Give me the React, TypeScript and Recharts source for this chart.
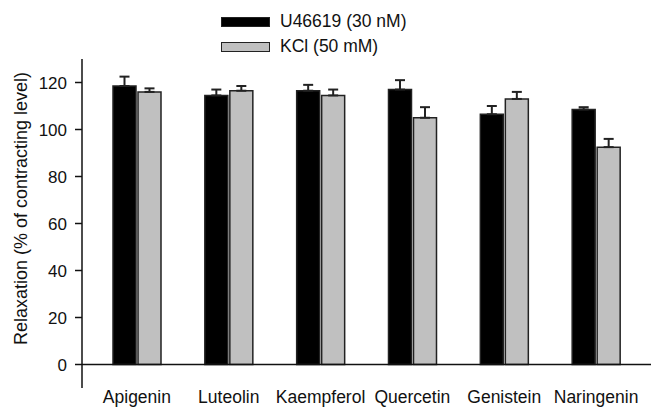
import React from 'react';
import { BarChart, Bar, XAxis, YAxis, ErrorBar, ReferenceLine } from 'recharts';

// values
const compounds = ['Apigenin', 'Luteolin', 'Kaempferol', 'Quercetin', 'Genistein', 'Naringenin'];
const u46619 = [118.5, 114.5, 116.5, 117, 106.5, 108.5];
const u46619Sem = [4, 2.5, 2.5, 4, 3.5, 1];
const kcl = [116, 116.5, 114.5, 105, 113, 92.5];
const kclSem = [1.5, 2, 2.5, 4.5, 3, 3.5];
const yTicks = [0, 20, 40, 60, 80, 100, 120];

const data = compounds.map((name, i) => ({
  name,
  u: u46619[i],
  uErr: [0, u46619Sem[i]],
  k: kcl[i],
  kErr: [0, kclSem[i]],
}));

const FONT = '"Liberation Sans", Arial, Helvetica, sans-serif';

const legendItems = [
  { label: 'U46619 (30 nM)', fill: '#000' },
  { label: 'KCl (50 mM)', fill: '#c0c0c0' },
];

export default function App() {
  return (
    <div style={{ position: 'absolute', left: 0, top: 0, width: 651, height: 407, background: '#fff' }}>
      {/* legend sits above the plot, outside recharts layout */}
      <div
        style={{
          position: 'absolute',
          left: 221,
          top: 9,
          fontFamily: FONT,
          fontSize: 17.5,
          color: '#111',
          zIndex: 1,
        }}
      >
        {legendItems.map((it) => (
          <div key={it.label} style={{ display: 'flex', alignItems: 'center', height: 25 }}>
            <span
              style={{
                display: 'inline-block',
                width: 47,
                height: 8,
                background: it.fill,
                border: '1.5px solid #222',
                marginRight: 10,
              }}
            />
            <span>{it.label}</span>
          </div>
        ))}
      </div>
      <BarChart
        width={651}
        height={407}
        data={data}
        margin={{ top: 59, right: 0, left: 0, bottom: 0 }}
        barSize={23}
        barGap={2}
      >
        <XAxis
          dataKey="name"
          axisLine={false}
          tickLine={false}
          tickSize={0}
          tickMargin={3}
          height={19}
          padding={{ left: 9, right: 9 }}
          interval={0}
          tick={{ fontSize: 17.5, fill: '#111', fontFamily: FONT }}
        />
        <YAxis
          domain={[-10, 130]}
          ticks={yTicks}
          width={82}
          axisLine={{ stroke: '#111', strokeWidth: 1.5 }}
          tickLine={{ stroke: '#111', strokeWidth: 1.5 }}
          tickSize={7}
          tickMargin={8}
          tick={{ fontSize: 17, fill: '#111', fontFamily: FONT }}
          label={{
            value: 'Relaxation (% of contracting level)',
            angle: -90,
            position: 'center',
            dx: -20,
            dy: -15,
            style: { fontSize: 18, fill: '#111', fontFamily: FONT },
          }}
        />
        <ReferenceLine y={0} stroke="#111" strokeWidth={1.5} />
        <Bar dataKey="u" fill="#000" stroke="#222" strokeWidth={1.5} isAnimationActive={false}>
          <ErrorBar dataKey="uErr" width={5} stroke="#222" strokeWidth={2} direction="y" />
        </Bar>
        <Bar dataKey="k" fill="#c0c0c0" stroke="#222" strokeWidth={1.5} isAnimationActive={false}>
          <ErrorBar dataKey="kErr" width={5} stroke="#222" strokeWidth={2} direction="y" />
        </Bar>
      </BarChart>
    </div>
  );
}
